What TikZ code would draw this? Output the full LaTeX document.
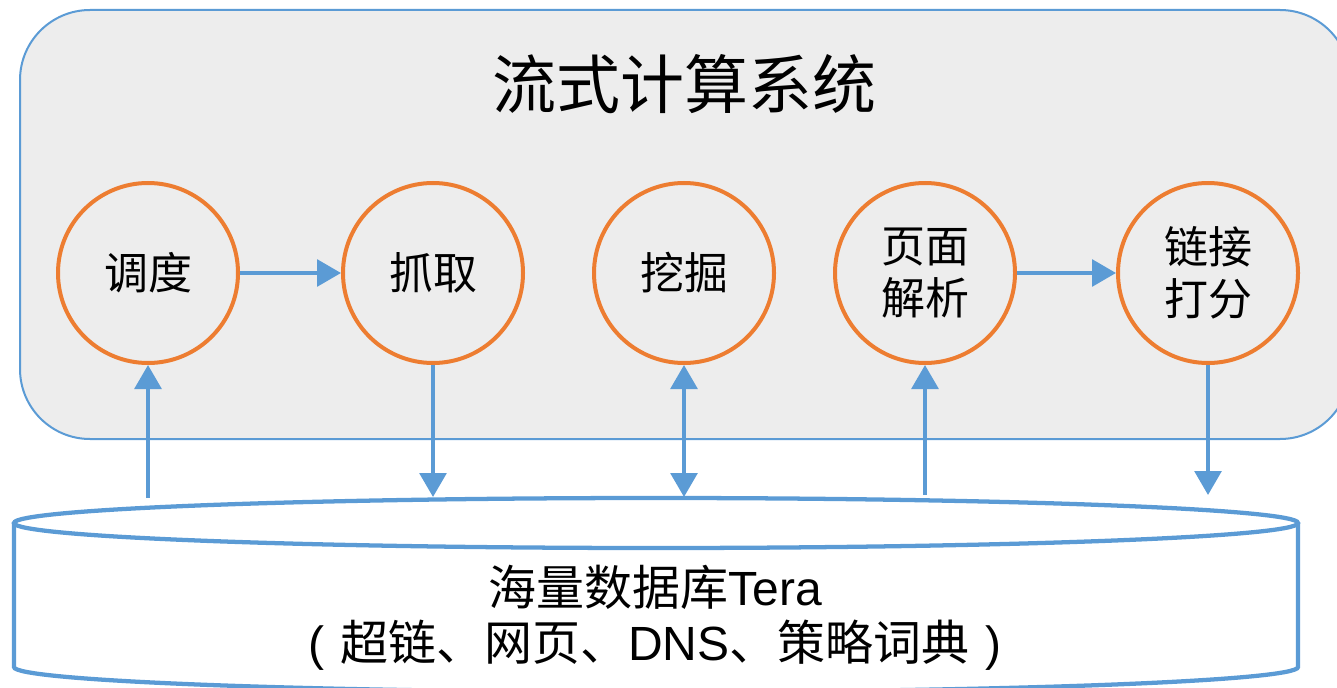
\documentclass[tikz,border=0pt]{standalone}
\usepackage{fontspec}
\setmainfont{Liberation Sans}
\newfontfamily\cjk{Noto Sans CJK SC}
\usetikzlibrary{arrows.meta}
\definecolor{lineblue}{HTML}{5B9BD5}
\definecolor{ringorange}{HTML}{ED7D31}
\definecolor{panelgray}{HTML}{EDEDED}
\begin{document}
\begin{tikzpicture}[x=0.75pt,y=-0.75pt,
  proc/.style={circle,draw=ringorange,line width=3pt,minimum size=135pt,
    inner sep=0pt,align=center,font=\cjk\fontsize{33}{39}\selectfont},
  tipA/.tip={Triangle[width=20pt,length=18pt]},
  flow/.style={draw=lineblue,line width=3pt,-tipA},
  dbline/.style={draw=lineblue,line width=3.2pt},
]
\useasboundingbox (0,0) rectangle (1337,688);
\clip (0,0) rectangle (1337,688);

% panel of the stream computing system
\draw[draw=lineblue,fill=panelgray,line width=1.5pt,rounded corners=52.5pt]
  (20,10) rectangle (1350,439);
\node[font=\cjk\fontsize{48}{56}\selectfont] (title) at (684,84) {流式计算系统};

% processing stages
\node[proc] (dd) at (148,273) {调度};
\node[proc] (zq) at (433,273) {抓取};
\node[proc] (wj) at (684,273) {挖掘};
\node[proc] (ym) at (925,273) {页面\\解析};
\node[proc] (lj) at (1208,273) {链接\\打分};

\draw[flow] (dd) -- (zq);
\draw[flow] (ym) -- (lj);

% database cylinder
\draw[dbline] (14,523) -- (14,667)
  arc[start angle=180,end angle=360,x radius=481.5pt,y radius=18.75pt]
  -- (1298,523);
\draw[dbline] (656,523) ellipse [x radius=481.5pt,y radius=18.75pt];
\node[align=center,font=\fontsize{36}{41}\selectfont] (db) at (655,618)
  {{\cjk 海量数据库}Tera\\(\hspace{12pt}{\cjk 超链、网页、}DNS{\cjk 、策略词典}\hspace{12pt})};

% arrow ends on the database top
\coordinate (b1) at (148,498);
\coordinate (b2) at (433,497);
\coordinate (b3) at (684,497);
\coordinate (b4) at (925,495);
\coordinate (b5) at (1208,495);

\draw[flow] (b1) -- (dd.south);
\draw[flow] (zq.south) -- (b2);
\draw[flow,tipA-tipA] (wj.south) -- (b3);
\draw[flow] (b4) -- (ym.south);
\draw[flow] (lj.south) -- (b5);
\end{tikzpicture}
\end{document}
